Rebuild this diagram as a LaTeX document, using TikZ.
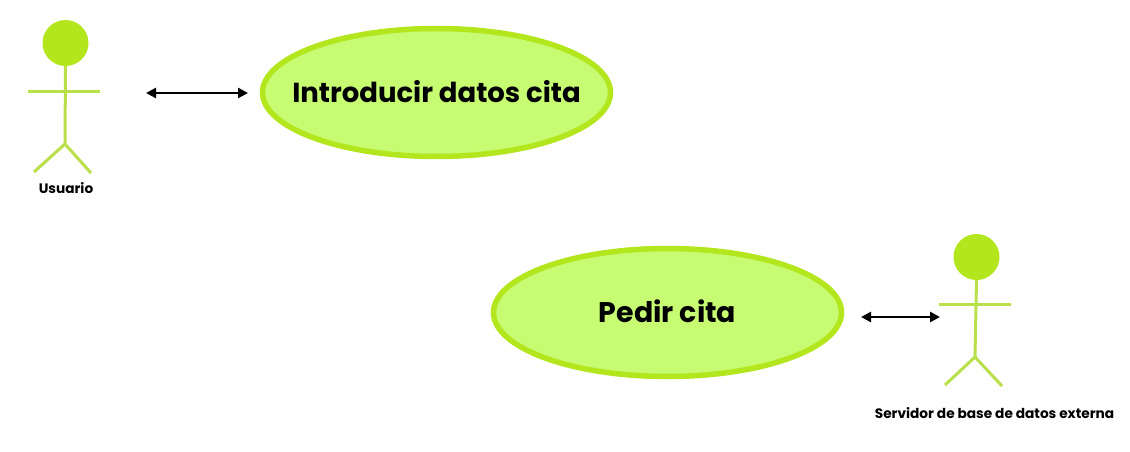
\documentclass[tikz,border=0pt]{standalone}
\usepackage{fontspec}
\setmainfont{Poppins}[BoldFont={* Bold}]
\usetikzlibrary{arrows.meta,shapes.geometric}
\definecolor{limeline}{HTML}{B4E61E}
\definecolor{limefill}{HTML}{C6FB72}
\definecolor{stick}{HTML}{B9E04A}
\newcommand\uctext[2]{\makebox[0pt]{\raisebox{2.5pt}{\fontsize{#1}{30}\selectfont #2}}}
\tikzset{
  usecase/.style={ellipse,draw=limeline,fill=limefill,line width=5.5pt,minimum width=348pt,minimum height=128pt,inner sep=0pt,font=\bfseries,text=black},
  head/.style={circle,fill=limeline,minimum size=46pt,inner sep=0pt},
  limb/.style={draw=stick,line width=3pt},
  link/.style={{Triangle[length=10pt,width=10pt]}-{Triangle[length=10pt,width=10pt]},line width=2.6pt,black},
  smalllabel/.style={font=\bfseries\fontsize{13.7}{16}\selectfont,text=black,inner sep=0pt}
}
\begin{document}
\begin{tikzpicture}[x=1pt,y=-1pt]
\useasboundingbox[fill=white] (0,0) rectangle (1130,452);
\node[usecase] (intro) at (436.5,92.5) {\uctext{27.5}{Introducir datos cita}};
\node[usecase] (pedir) at (667.5,312.5) {\uctext{28.4}{Pedir cita}};
% Usuario
\node[head] (h1) at (65.5,43) {};
\coordinate (n1) at (65,144);
\coordinate (al1) at (28,91);
\coordinate (ar1) at (100,91);
\coordinate (ll1) at (34,172);
\coordinate (lr1) at (91,173);
\draw[limb] (h1.south) -- (n1);
\draw[limb] (al1) -- (ar1);
\draw[limb] (ll1) -- (n1) -- (lr1);
\node[smalllabel] (u) at (66,188) {Usuario};
% Servidor
\node[head] (h2) at (976.5,257) {};
\coordinate (n2) at (975,357);
\coordinate (al2) at (939,304);
\coordinate (ar2) at (1011,304);
\coordinate (ll2) at (945,385);
\coordinate (lr2) at (1002,386);
\draw[limb] (h2.south) -- (n2);
\draw[limb] (al2) -- (ar2);
\draw[limb] (ll2) -- (n2) -- (lr2);
\node[smalllabel] (s) at (994.5,413) {Servidor de base de datos externa};
% arrows
\coordinate (a1l) at (146,93);
\coordinate (a1r) at (248,93);
\coordinate (a2l) at (861,317);
\coordinate (a2r) at (940,317);
\draw[link] (a1l) -- (a1r);
\draw[link] (a2l) -- (a2r);
\end{tikzpicture}
\end{document}
